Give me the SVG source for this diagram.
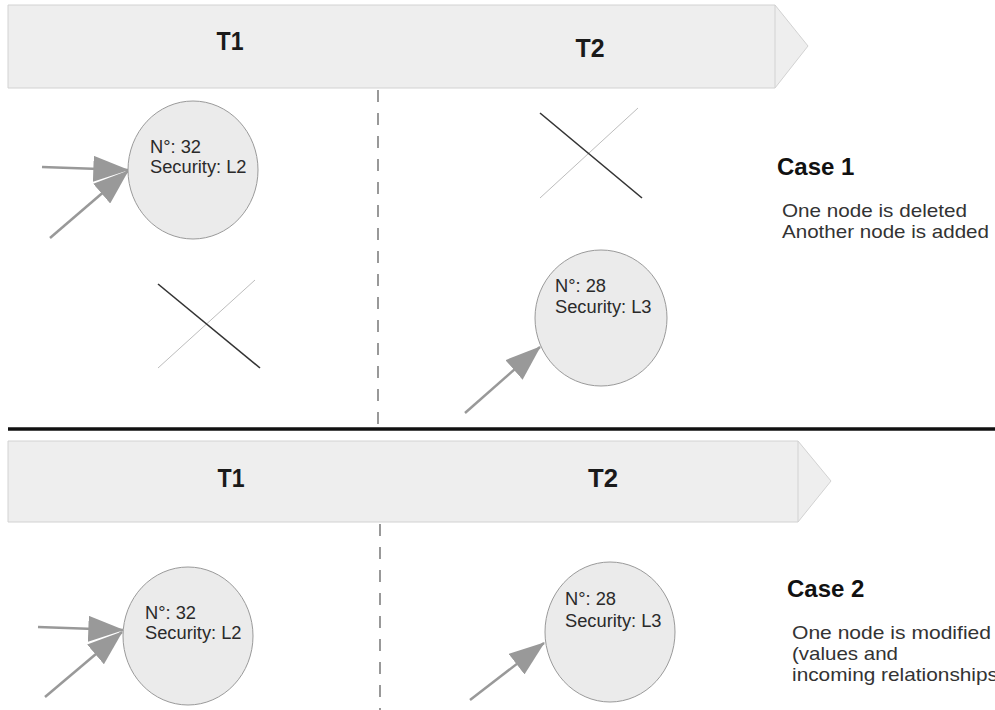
<svg xmlns="http://www.w3.org/2000/svg" width="995" height="710" viewBox="0 0 995 710">
<style>
.band{fill:#eeeeee;stroke:#d2d2d2;stroke-width:1}
.tl{font-family:"Liberation Sans",Arial,sans-serif;font-weight:bold;font-size:26px;fill:#1a1a1a;text-anchor:middle}
.node{fill:#ebebeb;stroke:#9a9a9a;stroke-width:1}
.nt{font-family:"Liberation Sans",Arial,sans-serif;font-size:18.3px;fill:#2a2a2a}
.arr{stroke:#999999;stroke-width:2.5;fill:none;marker-end:url(#ah)}
.dash{stroke:#555555;stroke-width:1.2;stroke-dasharray:12 11;fill:none}
.xd{stroke:#333333;stroke-width:1.6}
.xl{stroke:#bdbdbd;stroke-width:1}
.case{font-family:"Liberation Sans",Arial,sans-serif;font-weight:bold;font-size:24px;fill:#111}
.desc{font-family:"Liberation Sans",Arial,sans-serif;font-size:19px;fill:#333}
</style>
<defs>
<marker id="ah" markerUnits="userSpaceOnUse" markerWidth="36" markerHeight="26" viewBox="0 0 33 24" refX="32" refY="12" orient="auto">
<path d="M0,0 L33,12 L0,24 Z" fill="#999999"/>
</marker>
</defs>
<rect width="995" height="710" fill="#ffffff"/>

<g id="timeline1">
<path class="band" d="M8,5 H775 L808,46 L775,88 H8 Z"/>
<line x1="775" y1="5" x2="775" y2="88" stroke="#d2d2d2"/>
<text class="tl" x="230" y="50" textLength="27" lengthAdjust="spacingAndGlyphs">T1</text>
<text class="tl" x="590" y="57" textLength="29" lengthAdjust="spacingAndGlyphs">T2</text>
</g>

<g id="timeline2">
<path class="band" d="M8,441 H798 L831,481 L798,522 H8 Z"/>
<line x1="798" y1="441" x2="798" y2="522" stroke="#d2d2d2"/>
<text class="tl" x="231" y="487" textLength="27" lengthAdjust="spacingAndGlyphs">T1</text>
<text class="tl" x="603" y="487" textLength="30" lengthAdjust="spacingAndGlyphs">T2</text>
</g>

<g id="separator">
<line x1="8" y1="429" x2="995" y2="429" stroke="#111" stroke-width="3.5"/>
</g>

<g id="dividers">
<line class="dash" x1="378" y1="90" x2="378" y2="426"/>
<line class="dash" x1="380" y1="524" x2="380" y2="710"/>
</g>

<g id="connectors">
<line class="arr" x1="42" y1="167" x2="128" y2="170"/>
<line class="arr" x1="50" y1="238" x2="128" y2="171"/>
<line class="arr" x1="465" y1="413" x2="540" y2="347"/>
<line class="arr" x1="38" y1="627" x2="123" y2="630"/>
<line class="arr" x1="45" y1="697" x2="122" y2="632"/>
<line class="arr" x1="470" y1="700" x2="544" y2="643"/>
</g>

<g id="node-c1-32">
<ellipse class="node" cx="193" cy="170" rx="65" ry="69"/>
<text class="nt" x="150" y="153">N°: 32</text>
<text class="nt" x="150" y="173">Security: L2</text>
</g>

<g id="deleted-c1">
<line class="xl" x1="255" y1="280" x2="158" y2="368"/>
<line class="xd" x1="158" y1="284" x2="260" y2="368"/>
</g>

<g id="deleted-c1-t2">
<line class="xl" x1="638" y1="108" x2="540" y2="198"/>
<line class="xd" x1="540" y1="113" x2="642" y2="198"/>
</g>

<g id="node-c1-28">
<ellipse class="node" cx="601" cy="318" rx="66" ry="68"/>
<text class="nt" x="555" y="292">N°: 28</text>
<text class="nt" x="555" y="313">Security: L3</text>
</g>

<g id="node-c2-32">
<ellipse class="node" cx="188" cy="636" rx="65" ry="69"/>
<text class="nt" x="145" y="619">N°: 32</text>
<text class="nt" x="145" y="639">Security: L2</text>
</g>

<g id="node-c2-28">
<ellipse class="node" cx="610" cy="632" rx="65" ry="70"/>
<text class="nt" x="565" y="605">N°: 28</text>
<text class="nt" x="565" y="627">Security: L3</text>
</g>

<g id="case1">
<text class="case" x="777" y="175">Case 1</text>
<text class="desc" x="782" y="217" textLength="185" lengthAdjust="spacingAndGlyphs">One node is deleted</text>
<text class="desc" x="782" y="238" textLength="207" lengthAdjust="spacingAndGlyphs">Another node is added</text>
</g>

<g id="case2">
<text class="case" x="787" y="597">Case 2</text>
<text class="desc" x="792" y="639" textLength="199" lengthAdjust="spacingAndGlyphs">One node is modified</text>
<text class="desc" x="792" y="660" textLength="106" lengthAdjust="spacingAndGlyphs">(values and</text>
<text class="desc" x="792" y="681" textLength="206" lengthAdjust="spacingAndGlyphs">incoming relationships</text>
</g>
</svg>
